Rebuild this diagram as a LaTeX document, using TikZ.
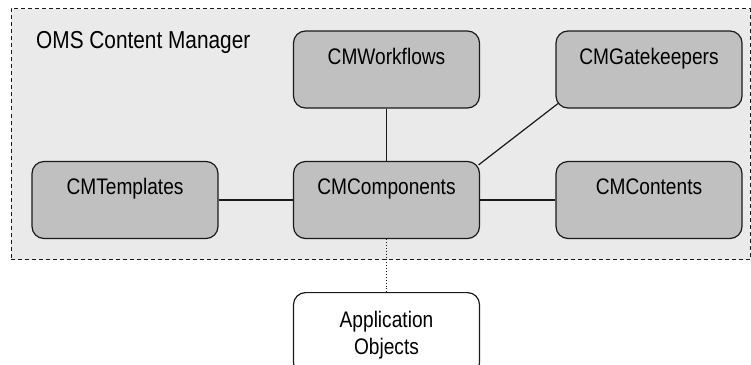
\documentclass[tikz,border=0pt]{standalone}
\usepackage{fontspec}
\newfontfamily\cmfont[FakeStretch=0.85]{Liberation Sans}
\usetikzlibrary{calc}
\definecolor{outerfill}{HTML}{EAEAEA}
\definecolor{boxfill}{HTML}{C0C0C0}
\definecolor{edgecol}{HTML}{1A1A1A}
\begin{document}
\begin{tikzpicture}[x=1pt,y=-1pt,
  cmbox/.style={draw=edgecol, line width=1.2pt, fill=boxfill, rounded corners=12pt,
    minimum width=186pt, inner xsep=2pt, inner ysep=0pt, text height=33pt, text depth=44pt,
    font=\cmfont\fontsize{22.5}{27}\selectfont},
  appbox/.style={draw=edgecol, line width=1.2pt, fill=white, rounded corners=12pt,
    minimum width=186pt, inner xsep=2pt, inner ysep=0pt, align=center,
    font=\cmfont\fontsize{22.5}{27}\selectfont},
  link/.style={draw=edgecol, line width=1.2pt}]
\useasboundingbox (0,0) rectangle (751,364);
\fill[white] (0,0) rectangle (751,364);
\clip (0,0) rectangle (751,364);
\node[draw=edgecol, line width=0.9pt, dash pattern=on 4pt off 3pt, fill=outerfill,
  minimum width=739pt, minimum height=251pt, inner sep=0pt] (oms) at (380.5,134) {};
\node[anchor=base west, inner sep=0pt, font=\cmfont\fontsize{24.5}{29}\selectfont]
  (title) at (36,48) {OMS Content Manager};
\node[cmbox] (wf) at (386.5,69.5) {CMWorkflows};
\node[cmbox] (gk) at (649,69.5) {CMGatekeepers};
\node[cmbox] (tp) at (125,200) {CMTemplates};
\node[cmbox] (cc) at (386.5,200) {CMComponents};
\node[cmbox] (ct) at (649,200) {CMContents};
\node[appbox, anchor=north] (app) at (386.5,292)
  {\rule{0pt}{35pt}Application\\Objects\rule[-20pt]{0pt}{20pt}};
\draw[link] (wf) -- (cc);
\draw[link] (tp) -- (cc);
\draw[link] (cc) -- (ct);
\draw[link] ($(cc.north east)+(-1.5,4)$) -- ($(gk.south west)+(2.5,-5)$);
\draw[draw=edgecol, line width=0.9pt, dotted] (cc) -- (app);
\end{tikzpicture}
\end{document}
